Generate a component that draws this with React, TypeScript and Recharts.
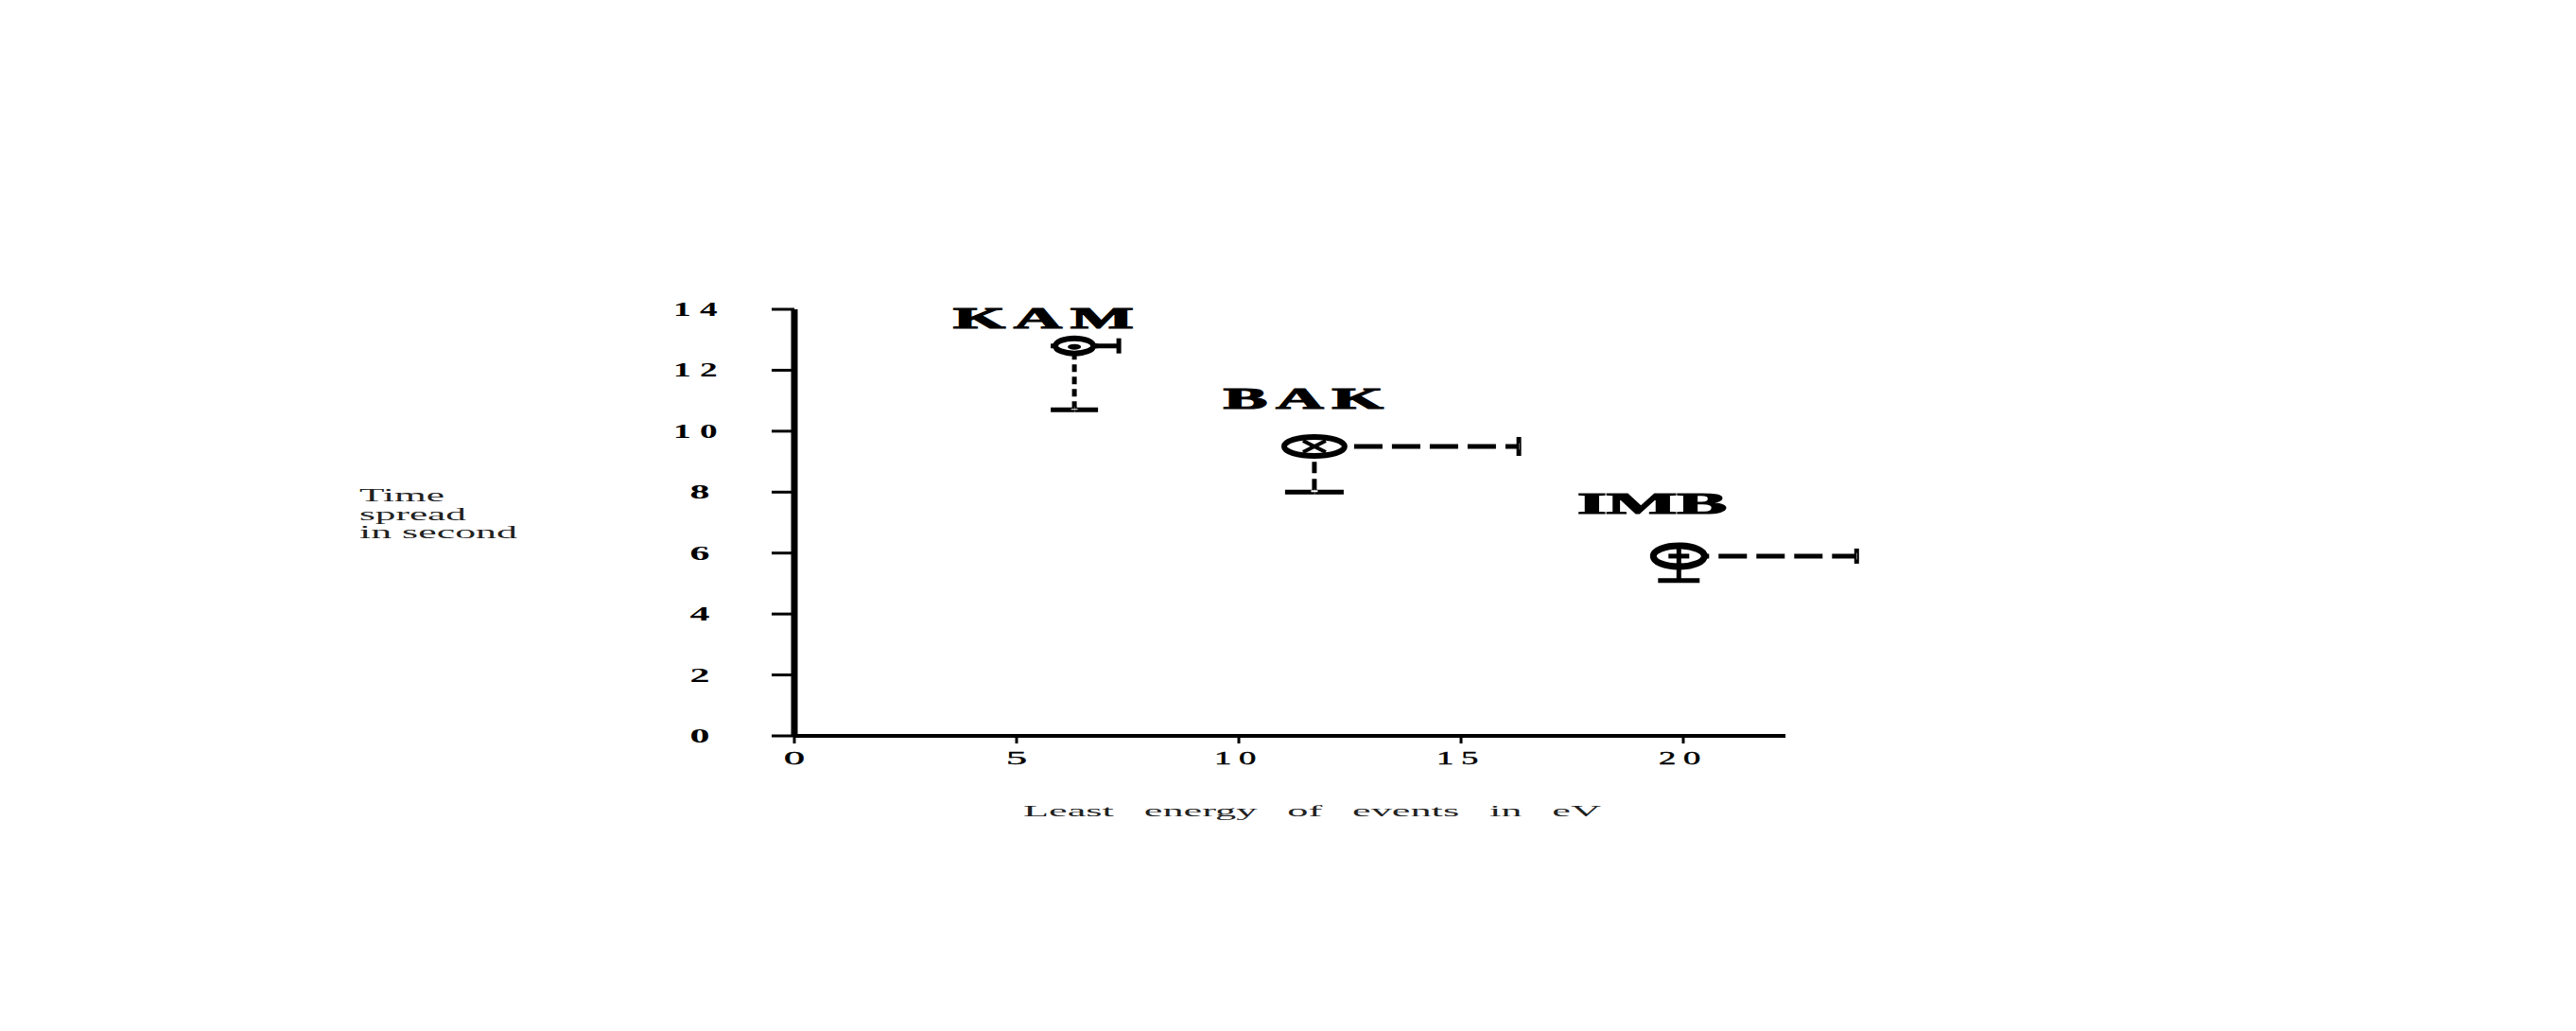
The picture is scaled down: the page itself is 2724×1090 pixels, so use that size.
import {
  ErrorBar,
  Label,
  ReferenceLine,
  Scatter,
  ScatterChart,
  XAxis,
  YAxis,
} from "recharts";

// values
const detectors = ["KAM", "BAK", "IMB"];
const leastEnergy = [6.3, 11.7, 19.9];
const timeSpread = [12.8, 9.5, 5.9];
const energyErrorUp = [1.0, 4.6, 4.0];
const spreadErrorDown = [2.1, 1.5, 0.8];
const nameEnergy = [5.7, 11.55, 19.3];
const nameSpread = [13.38, 10.74, 7.3];

const energyTicks = [0, 5, 10, 15, 20];
const spreadTicks = [0, 2, 4, 6, 8, 10, 12, 14];
const energyAxisEnd = 22.3;

const yTitleLines = ["Time", "spread", "in second"];
const xTitle = "Least energy of events in eV";

const SERIF = '"Liberation Serif", "Times New Roman", serif';

type Inner = "dot" | "cross" | "plus";
const markStyle: Record<
  string,
  { rx: number; ry: number; sw: number; inner: Inner; capX: number; capY: number; gapX: string; gapY: string; nameWidth: number; spacing: number }
> = {
  KAM: { rx: 20, ry: 8, sw: 6, inner: "dot", capX: 8, capY: 25, gapX: "0 100", gapY: "5 8", nameWidth: 200, spacing: 4 },
  BAK: { rx: 32, ry: 10, sw: 6, inner: "cross", capX: 10, capY: 31, gapX: "10 30", gapY: "6 12", nameWidth: 178, spacing: 4 },
  IMB: { rx: 27, ry: 11, sw: 7, inner: "plus", capX: 8, capY: 22, gapX: "10 30", gapY: "0 100", nameWidth: 158, spacing: 0 },
};

const points = detectors.map((name, i) => ({
  name,
  x: leastEnergy[i],
  y: timeSpread[i],
  ex: [0, energyErrorUp[i]],
  ey: [spreadErrorDown[i], 0],
}));

const nameTags = detectors.map((name, i) => ({ name, x: nameEnergy[i], y: nameSpread[i] }));

function Marker(props: any) {
  const { cx, cy, payload } = props;
  const s = markStyle[payload.name];
  let inner;
  if (s.inner === "dot") {
    inner = <ellipse cx={cx} cy={cy + 1} rx={7} ry={3} fill="#000" />;
  } else if (s.inner === "cross") {
    inner = (
      <g stroke="#000" strokeWidth={4}>
        <line x1={cx - 12} y1={cy - 6} x2={cx + 12} y2={cy + 6} />
        <line x1={cx - 12} y1={cy + 6} x2={cx + 12} y2={cy - 6} />
      </g>
    );
  } else {
    inner = (
      <g stroke="#000" strokeWidth={5}>
        <line x1={cx - 11} y1={cy} x2={cx + 11} y2={cy} />
        <line x1={cx} y1={cy - 9} x2={cx} y2={cy + 9} />
      </g>
    );
  }
  return (
    <g>
      <ellipse cx={cx} cy={cy} rx={s.rx} ry={s.ry} fill="#fff" stroke="#000" strokeWidth={s.sw} />
      {inner}
    </g>
  );
}

function NameTag(props: any) {
  const { cx, cy, payload } = props;
  const s = markStyle[payload.name];
  return (
    <text
      x={cx - s.nameWidth / 2}
      y={cy}
      fontFamily={SERIF}
      fontWeight="bold"
      fontSize={31}
      textLength={s.nameWidth}
      lengthAdjust="spacingAndGlyphs"
      letterSpacing={s.spacing}
      fill="#000"
      stroke="#000"
      strokeWidth={1.2}
    >
      {payload.name}
    </text>
  );
}

function EnergyTick({ x, y, payload }: any) {
  const label = String(payload.value);
  const w = label.length > 1 ? 52 : 22;
  return (
    <text
      x={x - w / 2}
      y={y + 22}
      fontFamily={SERIF}
      fontSize={19}
      textLength={w}
      lengthAdjust="spacingAndGlyphs"
      letterSpacing={label.length > 1 ? 4 : 0}
      fill="#000"
      stroke="#000"
      strokeWidth={0.4}
    >
      {label}
    </text>
  );
}

function SpreadTick({ x, y, payload }: any) {
  const label = String(payload.value);
  const w = label.length > 1 ? 56 : 21;
  return (
    <text
      x={x - 76 - w / 2}
      y={y + 7}
      fontFamily={SERIF}
      fontWeight="bold"
      fontSize={20}
      textLength={w}
      lengthAdjust="spacingAndGlyphs"
      letterSpacing={label.length > 1 ? 5 : 0}
      fill="#000"
    >
      {label}
    </text>
  );
}

function YTitle({ viewBox }: any) {
  const widths = [90, 113, 167];
  return (
    <g>
      {yTitleLines.map((line, i) => (
        <text
          key={line}
          x={viewBox.x - 360}
          y={viewBox.y + 203 + i * 19.5}
          fontFamily={SERIF}
          fontSize={18}
          textLength={widths[i]}
          lengthAdjust="spacingAndGlyphs"
          fill="#222"
        >
          {line}
        </text>
      ))}
    </g>
  );
}

function XTitle({ viewBox }: any) {
  return (
    <text
      x={viewBox.x + 242}
      y={viewBox.y + 85}
      fontFamily={SERIF}
      fontSize={17}
      wordSpacing={8}
      textLength={611}
      lengthAdjust="spacingAndGlyphs"
      fill="#222"
    >
      {xTitle}
    </text>
  );
}

export default function App() {
  return (
    <div style={{ width: 2700, height: 1070, background: "#fff" }}>
      <ScatterChart width={2700} height={1070} margin={{ top: 319, right: 693, bottom: 240, left: 732 }}>
        <XAxis
          type="number"
          dataKey="x"
          domain={[0, 25]}
          ticks={energyTicks}
          interval={0}
          height={60}
          axisLine={false}
          tickLine={{ stroke: "#000", strokeWidth: 3 }}
          tickSize={8}
          tickMargin={0}
          tick={<EnergyTick />}
        >
          <Label content={<XTitle />} />
        </XAxis>
        <YAxis
          type="number"
          dataKey="y"
          domain={[0, 14]}
          ticks={spreadTicks}
          interval={0}
          width={100}
          axisLine={{ stroke: "#000", strokeWidth: 7 }}
          tickLine={{ stroke: "#000", strokeWidth: 3 }}
          tickSize={24}
          tickMargin={0}
          tick={<SpreadTick />}
        >
          <Label content={<YTitle />} />
        </YAxis>
        <ReferenceLine
          segment={[
            { x: 0, y: 0 },
            { x: energyAxisEnd, y: 0 },
          ]}
          stroke="#000"
          strokeWidth={4}
        />
        {points.map((p) => {
          const s = markStyle[p.name];
          return (
            <Scatter key={p.name} data={[p]} shape={Marker} isAnimationActive={false}>
              <ErrorBar direction="x" dataKey="ex" width={s.capX} stroke="#000" strokeWidth={5} isAnimationActive={false} />
              <ErrorBar direction="x" dataKey="ex" width={0} stroke="#fff" strokeWidth={7} strokeDasharray={s.gapX} strokeDashoffset={-32} isAnimationActive={false} />
              <ErrorBar direction="y" dataKey="ey" width={s.capY} stroke="#000" strokeWidth={5} isAnimationActive={false} />
              <ErrorBar direction="y" dataKey="ey" width={0} stroke="#fff" strokeWidth={7} strokeDasharray={s.gapY} strokeDashoffset={4} isAnimationActive={false} />
            </Scatter>
          );
        })}
        <Scatter data={nameTags} shape={NameTag} isAnimationActive={false} />
      </ScatterChart>
    </div>
  );
}
